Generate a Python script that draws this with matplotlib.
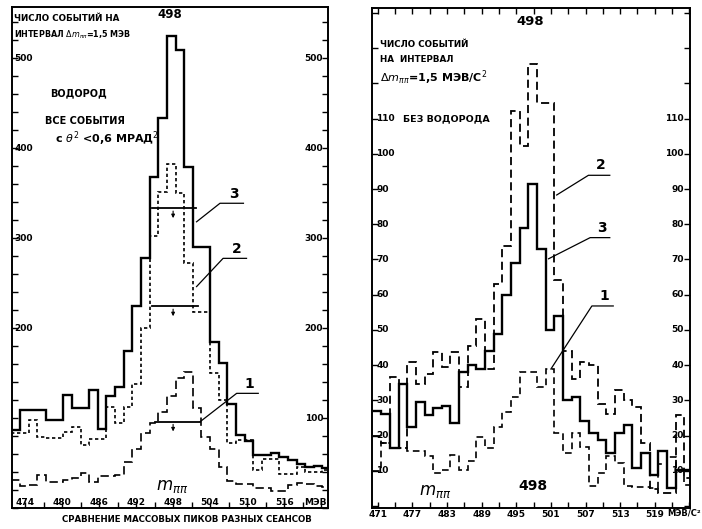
import matplotlib
matplotlib.use("Agg")
import matplotlib.pyplot as plt
import numpy as np
from matplotlib.ticker import MultipleLocator

plt.rcParams['font.family'] = ['Liberation Sans Narrow', 'DejaVu Sans']
plt.rcParams['mathtext.fontset'] = 'dejavusans'

# ---- left panel: hydrogen, all events with theta^2 < 0.6 mrad^2
left_start = 471.8   # first bin edge, MeV
left_bin = 1.4       # bin width as drawn on the scan
left_3 = [87, 109, 109, 109, 98, 98, 126, 111, 111, 131, 88, 124, 135, 174, 224, 278, 368,
          433, 525, 509, 379, 290, 290, 184, 161, 116, 81, 74, 59, 59, 61, 57, 53, 49, 45, 47, 44]
left_2 = [83, 83, 98, 79, 78, 78, 85, 90, 70, 77, 77, 112, 94, 112, 138, 200, 302,
          351, 382, 350, 272, 218, 218, 150, 120, 72, 76, 76, 42, 55, 55, 38, 38, 45, 40, 40, 42]
left_1 = [31, 24, 26, 37, 29, 29, 31, 33, 39, 29, 36, 35, 37, 51, 66, 83, 94,
          107, 125, 144, 151, 111, 79, 66, 45, 30, 27, 27, 22, 22, 19, 19, 26, 28, 27, 24, 23]
left_xticks = [474, 480, 486, 492, 498, 504, 510, 516]
left_yticks_l = [200, 300, 400, 500]
left_yticks_r = [100, 200, 300, 400, 500]
# half-width bars: (level, from, to)
left_fwhm = [(333, 494.5, 501.7), (224, 494.5, 502.1), (96, 495.1, 502.4)]
# leader lines: label, start, knee, end
left_leaders = [("3", (501.8, 318), (505.6, 338.6), 509.4),
                ("2", (501.8, 246), (506.1, 277.4), 509.9),
                ("1", (502.4, 96), (508.3, 127.4), 511.8)]

# ---- right panel: without hydrogen
right_start = 470.1
right_bin = 1.5
right_3 = [27, 26, 16.4, 34.7, 22.5, 29.6, 25.8, 27.7, 28.4, 23.5, 38, 40, 39, 44, 48.8, 60, 69,
           79, 91.5, 73, 50, 54, 30, 31, 24, 20.7, 18.8, 15, 20.7, 23, 10.8, 15, 8.9, 15.5, 5.2, 10.3, 10.3]
right_2 = [20, 17.8, 36.6, 16.4, 40.8, 34.7, 37.5, 43.7, 39.4, 43.7, 33.8, 45.5, 53, 39, 62.9, 73.7,
           112.2, 102.3, 125.4, 114.5, 114.5, 64.3, 44, 36, 41, 40, 29, 26, 33, 30, 28.2, 17.8,
           4.7, 3.7, 3.7, 25.8, 8]
right_1 = [10, 17.8, 16.4, 16.4, 15.5, 15.5, 14.1, 9.4, 10.3, 14.6, 10.3, 12.7, 19.7, 16.4, 22.5,
           26.8, 31, 38, 38, 33.8, 39, 20.6, 15, 20.6, 16.9, 5.6, 9.4, 14.1, 12.2, 5.6, 5.3, 5.3,
           5, 12, 14, 10, 6]
right_xticks = [471, 477, 483, 489, 495, 501, 507, 513, 519]
right_yticks = [10, 20, 30, 40, 50, 60, 70, 80, 90, 100, 110]
right_leaders = [("2", (502.0, 88.3), (507.5, 93.9), 511.2),
                 ("3", (500.6, 70.2), (507.8, 76.2), 511.2),
                 ("1", (501.0, 38.9), (508.1, 56.8), 511.8)]

fs = 6.5
fig = plt.figure(figsize=(7.02, 5.29), dpi=100)
ax1 = fig.add_axes([0.0178, 0.0397, 0.4494, 0.9471])
ax2 = fig.add_axes([0.5299, 0.0397, 0.4530, 0.9452])


def edges(start, width, vals):
    return start + width * np.arange(len(vals) + 1)


# left histograms
e = edges(left_start, left_bin, left_3)
ax1.stairs(left_3, e, baseline=None, color='k', lw=1.7)
ax1.stairs(left_2, e, baseline=None, color='k', lw=1.2, linestyle=(0, (2.0, 1.6)))
ax1.stairs(left_1, e, baseline=None, color='k', lw=1.2, linestyle=(0, (5, 2.5)))
ax1.set_xlim(471.97, 523.1)
ax1.set_ylim(0, 556.7)

for lev, a, b in left_fwhm:
    ax1.plot([a, b], [lev, lev], color='k', lw=1.3)
    ax1.annotate('', xy=(498, lev - 14), xytext=(498, lev),
                 arrowprops=dict(arrowstyle='-|>', lw=0.8, color='k', mutation_scale=5))
for lab, p0, p1, xend in left_leaders:
    ax1.plot([p0[0], p1[0], xend], [p0[1], p1[1], p1[1]], color='k', lw=0.9)
    ax1.text((p1[0] + xend) / 2 + 0.3, p1[1] + 3, lab, ha='center', va='bottom',
             fontsize=10, fontweight='bold')

ax1.xaxis.set_major_locator(MultipleLocator(3))
ax1.yaxis.set_major_locator(MultipleLocator(20))
ax1.tick_params(axis='both', direction='in', length=4, width=1, left=True, right=True,
                top=False, bottom=True, labelleft=False, labelbottom=False)
ytr = ax1.get_yaxis_transform()
xtr = ax1.get_xaxis_transform()
for v in left_yticks_l:
    ax1.text(0.006, v, str(v), transform=ytr, ha='left', va='center', fontsize=fs, fontweight='bold')
for v in left_yticks_r:
    ax1.text(0.985, v, str(v), transform=ytr, ha='right', va='center', fontsize=fs, fontweight='bold')
for m in left_xticks:
    ax1.text(m, 0.011, str(m), transform=xtr, ha='center', va='center', fontsize=fs, fontweight='bold')
ax1.text(521, 0.011, 'МЭВ', transform=xtr, ha='center', va='center', fontsize=fs, fontweight='bold')

ax1.text(472.2, 544, 'ЧИСЛО СОБЫТИЙ НА', fontsize=6.3, fontweight='bold', va='center')
ax1.text(472.2, 526, r'ИНТЕРВАЛ $\Delta m_{\pi\pi}$=1,5 МЭВ', fontsize=5.8, fontweight='bold', va='center')
ax1.text(497.5, 548, '498', fontsize=8.5, fontweight='bold', ha='center', va='center')
ax1.text(478.1, 461, 'ВОДОРОД', fontsize=7, fontweight='bold', va='center')
ax1.text(477.2, 430, 'ВСЕ СОБЫТИЯ', fontsize=7, fontweight='bold', va='center')
ax1.text(478.9, 410, r'с $\theta^2$ <0,6 МРАД$^2$', fontsize=8, fontweight='bold', va='center')
ax1.text(497.8, 24, r'$m_{\pi\pi}$', fontsize=12, ha='center', va='center')

# right histograms
e = edges(right_start, right_bin, right_3)
ax2.stairs(right_2, e, baseline=None, color='k', lw=1.3, linestyle=(0, (4.5, 2.5)))
ax2.stairs(right_1, e, baseline=None, color='k', lw=1.2, linestyle=(0, (4, 2.5)))
ax2.stairs(right_3, e, baseline=None, color='k', lw=1.7)
ax2.set_xlim(470, 525.1)
ax2.set_ylim(-0.56, 141.4)

for lab, p0, p1, xend in right_leaders:
    ax2.plot([p0[0], p1[0], xend], [p0[1], p1[1], p1[1]], color='k', lw=0.9)
    ax2.text((p1[0] + xend) / 2 + 0.3, p1[1] + 0.8, lab, ha='center', va='bottom',
             fontsize=10, fontweight='bold')

ax2.set_xticks(right_xticks)
ax2.set_xticklabels([str(m) for m in right_xticks])
ax2.xaxis.set_minor_locator(MultipleLocator(3))
ax2.yaxis.set_major_locator(MultipleLocator(10))
ax2.tick_params(axis='both', which='both', direction='in', length=4, width=1, left=True,
                right=True, top=True, bottom=True, labelleft=False)
ax2.tick_params(axis='x', pad=1.5, labelsize=fs)
for lbl in ax2.get_xticklabels():
    lbl.set_fontweight('bold')
ytr = ax2.get_yaxis_transform()
for v in right_yticks:
    ax2.text(0.013, v, str(v), transform=ytr, ha='left', va='center', fontsize=fs, fontweight='bold')
    ax2.text(0.98, v, str(v), transform=ytr, ha='right', va='center', fontsize=fs, fontweight='bold')
fig.text(701 / 702, 1 - 513 / 529, 'МЭВ/С²', ha='right', va='center', fontsize=6, fontweight='bold')

ax2.text(497.4, 137.5, '498', fontsize=9.5, fontweight='bold', ha='center', va='center')
ax2.text(471.4, 131, 'ЧИСЛО СОБЫТИЙ', fontsize=6.3, fontweight='bold', va='center')
ax2.text(471.4, 126.8, 'НА  ИНТЕРВАЛ', fontsize=6.3, fontweight='bold', va='center')
ax2.text(471.4, 121.7, r'$\Delta m_{\pi\pi}$=1,5 МЭВ/С$^2$', fontsize=8, fontweight='bold', va='center')
ax2.text(475.4, 110, 'БЕЗ ВОДОРОДА', fontsize=6.8, fontweight='bold', va='center')
ax2.text(497.9, 5.6, '498', fontsize=10, fontweight='bold', ha='center', va='center')
ax2.text(480.9, 4.2, r'$m_{\pi\pi}$', fontsize=12, ha='center', va='center')

for ax in (ax1, ax2):
    for s in ax.spines.values():
        s.set_linewidth(1.4)

fig.text(187 / 702, 1 - 520 / 529, 'СРАВНЕНИЕ МАССОВЫХ ПИКОВ РАЗНЫХ СЕАНСОВ',
         ha='center', va='center', fontsize=6.2, fontweight='bold')

fig.savefig('out.png', dpi=100)
